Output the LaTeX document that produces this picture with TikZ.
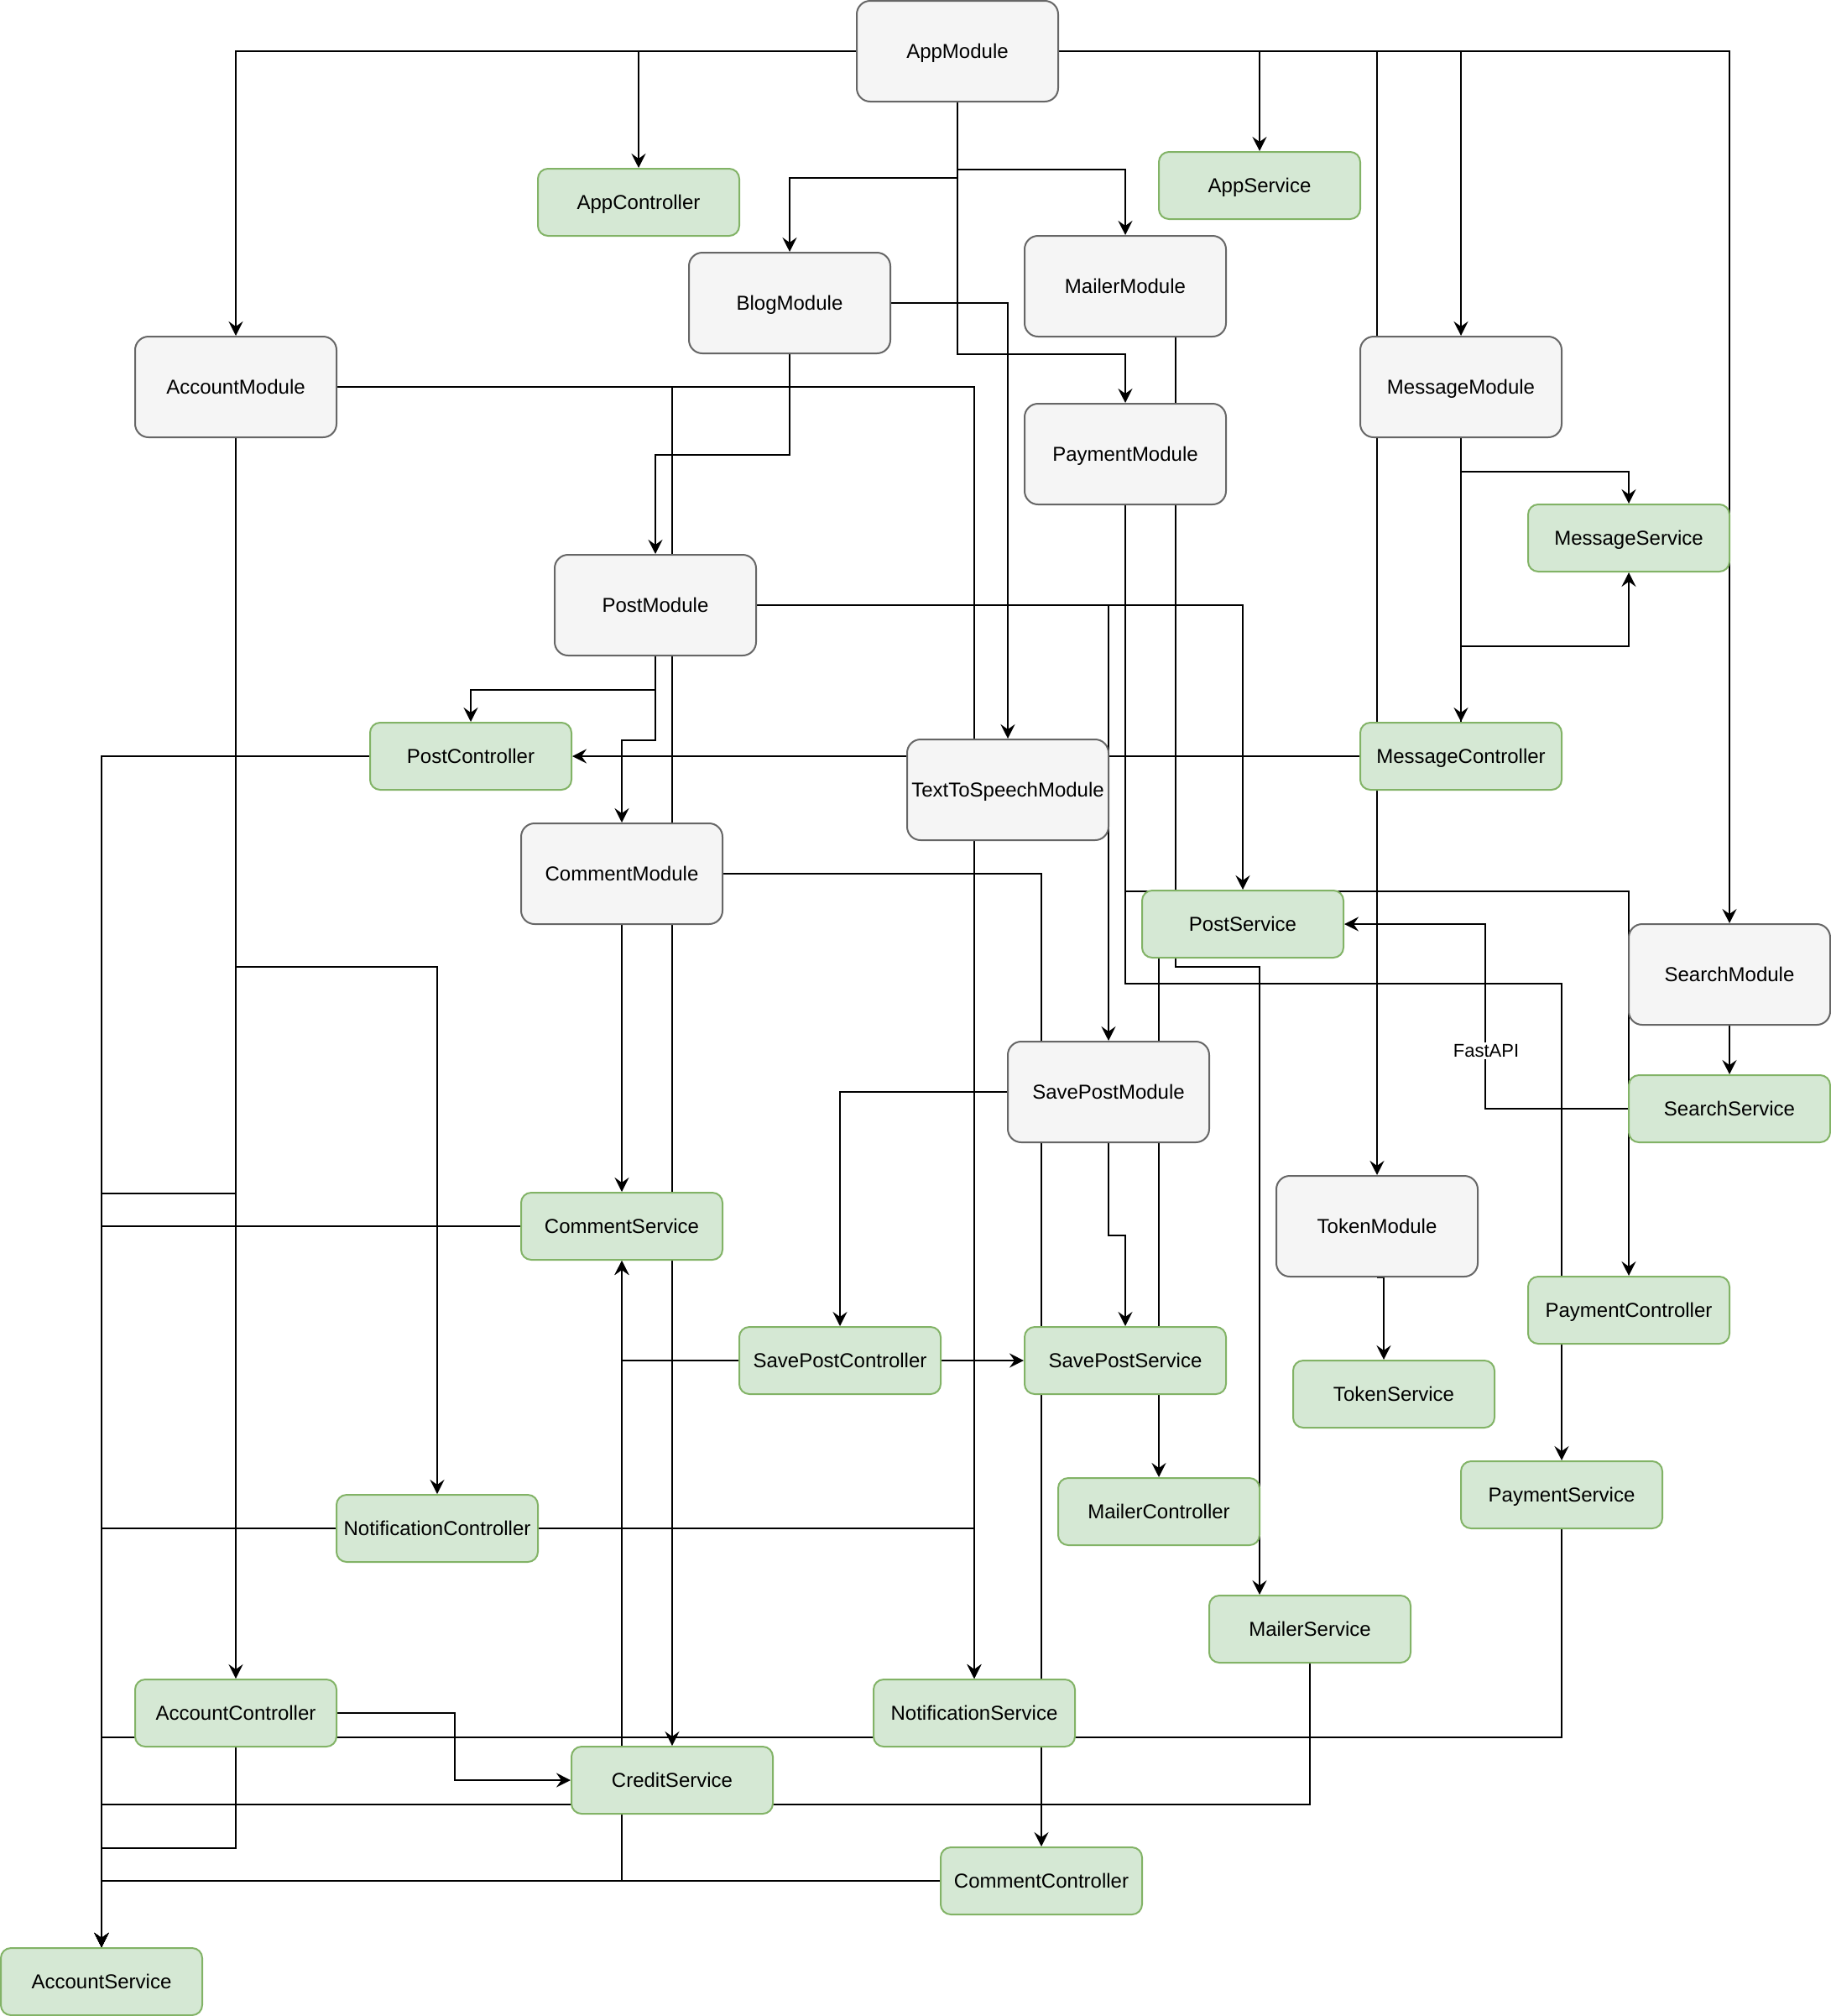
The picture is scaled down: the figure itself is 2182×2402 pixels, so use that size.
\documentclass[tikz,border=0pt]{standalone}
\usepackage{fontspec}
\setmainfont{Liberation Sans}
\usetikzlibrary{arrows.meta}
\pgfdeclarelayer{background}
\pgfsetlayers{background,main}
\definecolor{modfill}{HTML}{F5F5F5}
\definecolor{moddraw}{HTML}{666666}
\definecolor{svcfill}{HTML}{D5E8D4}
\definecolor{svcdraw}{HTML}{82B366}

\begin{document}
\begin{tikzpicture}[x=1pt,y=-1pt,
  box/.style={rectangle, line width=2pt, minimum width=240pt, inner sep=0pt,
    text height=17.2pt, text depth=0pt, font=\fontsize{24}{28}\selectfont},
  module/.style={box, rounded corners=16pt, minimum height=120pt, fill=modfill, draw=moddraw},
  svc/.style={box, rounded corners=12pt, minimum height=80pt, fill=svcfill, draw=svcdraw},
  link/.style={line width=2pt, -{Stealth[length=17pt,width=17pt,inset=6pt]}},
  lbl/.style={fill=white, inner sep=2pt, font=\fontsize{22}{26}\selectfont,
    text height=15.8pt, text depth=0pt}
]
\useasboundingbox (0,0) rectangle (2182,2402);

% modules
\node[module] (app)      at (1141,61)   {AppModule};
\node[module] (blog)     at (941,361)   {BlogModule};
\node[module] (mailer)   at (1341,341)  {MailerModule};
\node[module] (account)  at (281,461)   {AccountModule};
\node[module] (message)  at (1741,461)  {MessageModule};
\node[module] (payment)  at (1341,541)  {PaymentModule};
\node[module] (post)     at (781,721)   {PostModule};
\node[module] (tts)      at (1201,941)  {TextToSpeechModule};
\node[module] (comment)  at (741,1041)  {CommentModule};
\node[module] (search)   at (2061,1161) {SearchModule};
\node[module] (savepost) at (1321,1301) {SavePostModule};
\node[module] (token)    at (1641,1461) {TokenModule};

% controllers and services
\node[svc] (appctl)      at (761,241)   {AppController};
\node[svc] (appsvc)      at (1501,221)  {AppService};
\node[svc] (msgsvc)      at (1941,641)  {MessageService};
\node[svc] (postctl)     at (561,901)   {PostController};
\node[svc] (msgctl)      at (1741,901)  {MessageController};
\node[svc] (postsvc)     at (1481,1101) {PostService};
\node[svc] (searchsvc)   at (2061,1321) {SearchService};
\node[svc] (commentsvc)  at (741,1461)  {CommentService};
\node[svc] (paymentctl)  at (1941,1561) {PaymentController};
\node[svc] (savepostctl) at (1001,1621) {SavePostController};
\node[svc] (savepostsvc) at (1341,1621) {SavePostService};
\node[svc] (tokensvc)    at (1661,1661) {TokenService};
\node[svc] (paymentsvc)  at (1861,1781) {PaymentService};
\node[svc] (mailerctl)   at (1381,1801) {MailerController};
\node[svc] (notifctl)    at (521,1821)  {NotificationController};
\node[svc] (mailersvc)   at (1561,1941) {MailerService};
\node[svc] (accountctl)  at (281,2041)  {AccountController};
\node[svc] (notifsvc)    at (1161,2041) {NotificationService};
\node[svc] (credit)      at (801,2121)  {CreditService};
\node[svc] (commentctl)  at (1241,2241) {CommentController};
\node[svc] (accountsvc)  at (121,2361)  {AccountService};

\begin{pgfonlayer}{background}
% AppModule imports
\draw[link] (app.west) -| (account.north);
\draw[link] (app.west) -| (appctl.north);
\draw[link] (app.east) -| (appsvc.north);
\draw[link] (app.east) -| (token.north);
\draw[link] (app.east) -| (message.north);
\draw[link] (app.east) -| (search.north);
\draw[link] (app.south) -- ++(0,90) -| (blog.north);
\draw[link] (app.south) -- ++(0,80) -| (mailer.north);
\draw[link] (app.south) -- ++(0,300) -| (payment.north);

% BlogModule
\draw[link] (blog.east) -| (tts.north);
\draw[link] (blog.south) -- ++(0,120) -| (post.north);

% AccountModule
\draw[link] (account.east) -| (notifsvc.north);
\draw[link] (account.east) -| (credit.north);
\draw[link] (account.south) -- (accountctl.north);
\draw[link] (account.south) -- ++(0,900) -| (accountsvc.north);
\draw[link] (account.south) -- ++(0,630) -| (notifctl.north);

% MailerModule and PaymentModule
\draw[link] ([xshift=60pt]mailer.south) -- ++(0,750) -| ([xshift=-60pt]mailersvc.north);
\draw[link] (payment.south) -- ++(0,460) -| (paymentctl.north);
\draw[link] (payment.south) -- ++(0,570) -| (paymentsvc.north);

% MessageModule
\draw[link] (message.south) -- ++(0,40) -| (msgsvc.north);
\draw[link] (message.south) -- (msgctl.north);
\draw[link] (msgctl.north) -- ++(0,-90) -| (msgsvc.south);
\draw[link] (msgctl.west) -- (postctl.east);

% PostModule
\draw[link] (post.south) -- ++(0,40) -| (postctl.north);
\draw[link] (post.south) -- ++(0,100) -| (comment.north);
\draw[link] (post.east) -| (savepost.north);
\draw[link] (post.east) -| (postsvc.north);
\draw[link] (postctl.west) -| (accountsvc.north);

% CommentModule
\draw[link] (comment.south) -- (commentsvc.north);
\draw[link] (comment.east) -| (commentctl.north);
\draw[link] (commentsvc.west) -| (accountsvc.north);

% SearchModule
\draw[link] (search.south) -- (searchsvc.north);
\draw[link] (searchsvc.west) -- ++(-170,0) |- (postsvc.east);
\draw[link] ([xshift=-100pt]postsvc.south) -- (mailerctl.north);

% SavePostModule
\draw[link] (savepost.west) -| (savepostctl.north);
\draw[link] (savepost.south) -- ++(0,110) -| (savepostsvc.north);
\draw[link] (savepostctl.east) -- (savepostsvc.west);
\draw[link] (savepostctl.west) -| (commentsvc.south);
\draw[link] (commentctl.west) -| (commentsvc.south);
\draw[link] (commentctl.west) -| (accountsvc.north);

% TokenModule
\draw[link] (token.south) -| ([xshift=-12pt]tokensvc.north);

% Notification and account wiring
\draw[link] (notifctl.east) -| (notifsvc.north);
\draw[link] (notifctl.west) -| (accountsvc.north);
\draw[link] (accountctl.east) -- ++(140,0) |- (credit.west);
\draw[link] (accountctl.south) -- ++(0,120) -| (accountsvc.north);
\draw[link] (paymentsvc.south) -- ++(0,248) -| (accountsvc.north);
\draw[link] (mailersvc.south) -- ++(0,168) -| (accountsvc.north);
\end{pgfonlayer}

\node[lbl] (fastapi) at (1771,1252) {FastAPI};
\end{tikzpicture}
\end{document}
